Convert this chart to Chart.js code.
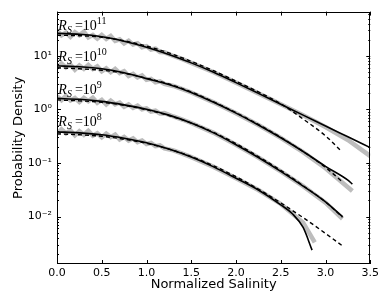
<!DOCTYPE html>
<html>
<head>
<meta charset="utf-8">
<script src="https://cdn.jsdelivr.net/npm/chart.js@4.4.0/dist/chart.umd.min.js"></script>
<style>
  body { margin: 0; background: #fff; }
</style>
</head>
<body>
<canvas id="chart" width="382" height="301"></canvas>
<script>
// x grid of the fitted curves
const xFit = [0, 0.25, 0.5, 0.75, 1.0, 1.25, 1.5, 1.75, 2.0, 2.25, 2.5, 2.75, 3.0, 3.25, 3.5]
const xFitShort = [0, 0.25, 0.5, 0.75, 1.0, 1.25, 1.5, 1.75, 2.0, 2.25, 2.5, 2.75, 3.0, 3.18]

// Rs = 1e11
const solid11 = [26.5, 25.4, 22.9, 18.9, 14.6, 10.7, 7.43, 4.97, 3.18, 2.00, 1.25, 0.785, 0.492, 0.309, 0.194]
const dashed11 = [24.4, 23.9, 22.4, 19.2, 15.3, 11.4, 7.92, 5.30, 3.39, 2.13, 1.28, 0.662, 0.322, 0.164]

// Rs = 1e10
const xSolid10 = [0, 0.25, 0.5, 0.75, 1.0, 1.25, 1.5, 1.75, 2.0, 2.25, 2.5, 2.75, 3.0, 3.25, 3.3]
const solid10 = [6.55, 6.27, 5.76, 4.87, 3.77, 2.92, 2.08, 1.36, 0.855, 0.514, 0.296, 0.164, 0.0865, 0.0478, 0.0404]
const dashed10 = [6.01, 5.76, 5.41, 4.76, 3.85, 2.99, 2.13, 1.39, 0.873, 0.525, 0.303, 0.164, 0.083, 0.0458]

// Rs = 1e9
const xSolid9 = [0, 0.25, 0.5, 0.75, 1.0, 1.25, 1.5, 1.75, 2.0, 2.25, 2.5, 2.75, 3.0, 3.19]
const solid9 = [1.61, 1.55, 1.42, 1.22, 1.01, 0.785, 0.560, 0.366, 0.220, 0.127, 0.070, 0.0371, 0.0188, 0.00995]
const dashed9 = [1.51, 1.45, 1.36, 1.20, 0.99, 0.769, 0.560, 0.374, 0.230, 0.132, 0.0731, 0.0378, 0.0188, 0.00975]

// Rs = 1e8
const xSolid8 = [0, 0.25, 0.5, 0.75, 1.0, 1.25, 1.5, 1.75, 2.0, 2.25, 2.5, 2.63, 2.75, 2.85]
const solid8 = [0.382, 0.366, 0.337, 0.290, 0.239, 0.182, 0.129, 0.0847, 0.0520, 0.0313, 0.0166, 0.0113, 0.00625, 0.00236]
const dashed8 = [0.351, 0.337, 0.316, 0.278, 0.234, 0.182, 0.132, 0.0885, 0.0555, 0.0327, 0.0180, 0.00955, 0.00484, 0.00291]

// measured pdfs (grey), noisy at low salinity
const xNoise = [0, 0.05, 0.1, 0.15, 0.2, 0.25, 0.3, 0.35, 0.4, 0.45, 0.5, 0.55, 0.6, 0.65, 0.7, 0.75, 0.8, 0.85, 0.9, 0.95, 1.0, 1.05, 1.1, 1.15, 1.2]

const xGray11 = xNoise.concat([1.3, 1.4, 1.5, 1.75, 2.0, 2.25, 2.5, 2.75, 2.9, 3.0, 3.25, 3.5])
const gray11 = [29.7, 24.2, 27.4, 22.7, 27.9, 24.4, 28.4, 22.2, 24.6, 21.1, 24.7, 20.8, 23.6, 19.1, 20.5, 17.2, 19.3, 16.3, 17.3, 14.6, 15.3, 13.2, 13.7, 11.8, 11.7,
  10.0, 8.7, 7.43, 4.97, 3.18, 2.0, 1.25, 0.78, 0.58, 0.47, 0.27, 0.135]

const xGray10 = xNoise.concat([1.3, 1.4, 1.5, 1.75, 2.0, 2.25, 2.5, 2.75, 3.0, 3.25, 3.3])
const gray10 = [5.96, 7.22, 6.12, 6.89, 5.51, 6.65, 5.74, 6.80, 5.73, 6.39, 5.18, 5.86, 4.97, 5.75, 4.80, 5.21, 4.23, 4.62, 3.97, 4.32, 3.58, 3.74, 3.22, 3.36, 3.00,
  2.75, 2.40, 2.08, 1.36, 0.855, 0.514, 0.296, 0.160, 0.080, 0.0354, 0.030]

const xGray9 = xNoise.concat([1.3, 1.4, 1.5, 1.75, 2.0, 2.25, 2.5, 2.75, 3.0, 3.19])
const gray9 = [1.77, 1.49, 1.80, 1.48, 1.64, 1.38, 1.64, 1.43, 1.65, 1.33, 1.51, 1.24, 1.46, 1.25, 1.35, 1.12, 1.24, 1.07, 1.18, 1.01, 1.05, 0.917, 0.948, 0.840, 0.855,
  0.74, 0.65, 0.56, 0.366, 0.22, 0.127, 0.070, 0.037, 0.0182, 0.0091]

const xGray8 = xNoise.concat([1.3, 1.4, 1.5, 1.75, 2.0, 2.25, 2.5, 2.75, 2.88])
const gray8 = [0.351, 0.424, 0.357, 0.405, 0.328, 0.392, 0.338, 0.400, 0.325, 0.360, 0.303, 0.354, 0.305, 0.340, 0.275, 0.307, 0.263, 0.289, 0.246, 0.264, 0.227, 0.237, 0.207, 0.213, 0.187,
  0.172, 0.150, 0.129, 0.0847, 0.052, 0.0313, 0.0172, 0.0077, 0.0033]

// curve labels: exponent of Rs and where the text baseline sits
const labelExps = ['11', '10', '9', '8']
const labelY = [30.1, 8.09, 1.91, 0.492]
const labelX = 0.015

const xTicks = [0, 0.5, 1.0, 1.5, 2.0, 2.5, 3.0, 3.5]
const yMin = 0.0013
const yMax = 67.4

const grayColor = '#bdbdbd'

function pts (xs, ys) {
  return xs.map((x, i) => ({ x: x, y: ys[i] }))
}

function grayLine (xs, ys) {
  return { data: pts(xs, ys), borderColor: grayColor, borderWidth: 4.5, pointRadius: 0, order: 3, tension: 0 }
}
function solidLine (xs, ys) {
  return { data: pts(xs, ys), borderColor: '#000', borderWidth: 1.6, pointRadius: 0, order: 1, cubicInterpolationMode: 'monotone' }
}
function dashedLine (xs, ys) {
  return { data: pts(xs, ys), borderColor: '#000', borderWidth: 1.4, borderDash: [4, 3], pointRadius: 0, order: 2, cubicInterpolationMode: 'monotone' }
}

const sup = { '-': '\u207B', '0': '\u2070', '1': '\u00B9', '2': '\u00B2', '3': '\u00B3' }

function isDecade (v) {
  const l = Math.log10(v)
  return Math.abs(l - Math.round(l)) < 1e-9
}

const framePlugin = {
  id: 'frame',
  afterDatasetsDraw (chart) {
    const ctx = chart.ctx
    const a = chart.chartArea
    const xs = chart.scales.x
    const ys = chart.scales.y
    ctx.save()
    ctx.strokeStyle = '#000'
    ctx.lineWidth = 1
    ctx.strokeRect(Math.round(a.left) + 0.5, Math.round(a.top) + 0.5, Math.round(a.right - a.left) - 1, Math.round(a.bottom - a.top) - 1)
    ctx.beginPath()
    xTicks.forEach(v => {
      const px = Math.round(xs.getPixelForValue(v)) + 0.5
      ctx.moveTo(px, a.bottom)
      ctx.lineTo(px, a.bottom - 4)
      ctx.moveTo(px, a.top)
      ctx.lineTo(px, a.top + 4)
    })
    for (let e = -3; e <= 1; e++) {
      for (let k = 1; k <= 9; k++) {
        const v = k * Math.pow(10, e)
        if (v < yMin || v > yMax) continue
        const py = Math.round(ys.getPixelForValue(v)) + 0.5
        const len = k === 1 ? 4 : 2
        ctx.moveTo(a.left, py)
        ctx.lineTo(a.left + len, py)
        ctx.moveTo(a.right, py)
        ctx.lineTo(a.right - len, py)
      }
    }
    ctx.stroke()

    // Rs labels
    ctx.fillStyle = '#000'
    ctx.textBaseline = 'alphabetic'
    labelExps.forEach((exp, i) => {
      let px = xs.getPixelForValue(labelX)
      const py = ys.getPixelForValue(labelY[i])
      ctx.font = 'italic 14px "Liberation Serif"'
      ctx.fillText('R', px, py)
      px += ctx.measureText('R').width
      ctx.font = 'italic 10px "Liberation Serif"'
      ctx.fillText('S', px, py + 3)
      px += ctx.measureText('S').width + 3
      ctx.font = '14px "Liberation Serif"'
      ctx.fillText('=', px, py)
      px += ctx.measureText('=').width
      ctx.fillText('10', px, py)
      px += ctx.measureText('10').width
      ctx.font = '10px "Liberation Serif"'
      ctx.fillText(exp, px, py - 6)
    })
    ctx.restore()
  }
}

const chartContainer = document.getElementById('chart')
const renderedChart = new Chart(chartContainer, {
  type: 'line',
  data: {
    datasets: [
      grayLine(xGray11, gray11),
      grayLine(xGray10, gray10),
      grayLine(xGray9, gray9),
      grayLine(xGray8, gray8),
      dashedLine(xFitShort, dashed11),
      dashedLine(xFitShort, dashed10),
      dashedLine(xSolid9, dashed9),
      dashedLine(xFitShort, dashed8),
      solidLine(xFit, solid11),
      solidLine(xSolid10, solid10),
      solidLine(xSolid9, solid9),
      solidLine(xSolid8, solid8)
    ]
  },
  options: {
    responsive: false,
    animation: false,
    layout: { padding: { top: 8, right: 11, bottom: 8, left: 0 } },
    plugins: { legend: { display: false }, tooltip: { enabled: false } },
    scales: {
      x: {
        type: 'linear',
        min: 0,
        max: 3.5,
        grid: { display: false, drawTicks: false },
        border: { display: false },
        afterFit: s => { s.height = 29 },
        afterBuildTicks: s => { s.ticks = xTicks.map(v => ({ value: v })) },
        ticks: {
          padding: 3,
          color: '#000',
          font: { family: 'DejaVu Sans', size: 11 },
          autoSkip: false,
          maxRotation: 0,
          callback: v => v.toFixed(1)
        },
        title: {
          display: true,
          text: 'Normalized Salinity',
          color: '#000',
          font: { family: 'DejaVu Sans', size: 13 },
          padding: { top: 0, bottom: 1 }
        }
      },
      y: {
        type: 'logarithmic',
        min: yMin,
        max: yMax,
        grid: { display: false, drawTicks: false },
        border: { display: false },
        afterFit: s => { s.width = 57 },
        ticks: {
          padding: 5,
          color: '#000',
          font: { family: 'DejaVu Sans', size: 11 },
          autoSkip: false,
          callback: v => {
            if (!isDecade(v)) return ''
            const e = String(Math.round(Math.log10(v)))
            return '10' + e.split('').map(c => sup[c]).join('')
          }
        },
        title: {
          display: true,
          text: 'Probability Density',
          color: '#000',
          font: { family: 'DejaVu Sans', size: 13 },
          padding: { top: 11, bottom: 0 }
        }
      }
    }
  },
  plugins: [framePlugin]
})
</script>
</body>
</html>
